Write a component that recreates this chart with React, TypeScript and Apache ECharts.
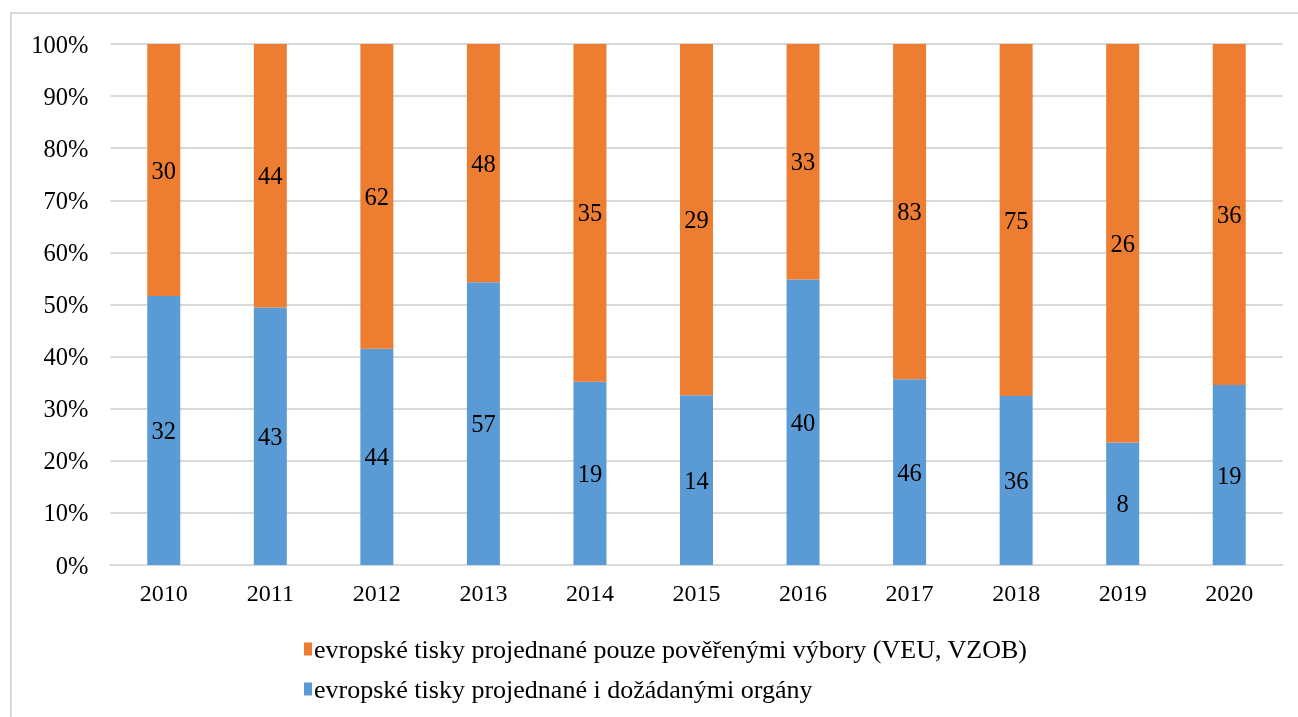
import React, { useEffect, useRef } from "react";
import * as echarts from "echarts";

const years = ["2010", "2011", "2012", "2013", "2014", "2015", "2016", "2017", "2018", "2019", "2020"];
const blueCounts = [32, 43, 44, 57, 19, 14, 40, 46, 36, 8, 19];
const orangeCounts = [30, 44, 62, 48, 35, 29, 33, 83, 75, 26, 36];
const orangeName = "evropské tisky projednané pouze pověřenými výbory (VEU, VZOB)";
const blueName = "evropské tisky projednané i dožádanými orgány";

export default function App() {
  const ref = useRef<HTMLDivElement>(null);
  useEffect(() => {
    if (!ref.current) return;
    const chart = echarts.init(ref.current, null, { renderer: "svg" });
    const totals = years.map((_, i) => blueCounts[i] + orangeCounts[i]);
    const bluePct = blueCounts.map((v, i) => (v / totals[i]) * 100);
    const orangePct = orangeCounts.map((v, i) => (v / totals[i]) * 100);
    const font = "'Liberation Serif', 'Times New Roman', serif";
    chart.setOption({
      animation: false,
      textStyle: { fontFamily: font },
      graphic: [
        {
          type: "rect",
          shape: { x: 11, y: 13, width: 1400, height: 800 },
          style: { fill: "none", stroke: "#d9d9d9", lineWidth: 2 },
          silent: true,
        },
      ],
      grid: { left: 110.5, right: 15.5, top: 44, bottom: 152 },
      legend: {
        orient: "vertical",
        left: 299,
        top: 631,
        itemWidth: 8,
        itemHeight: 13,
        itemGap: 14,
        icon: "rect",
        data: [orangeName, blueName],
        textStyle: { fontFamily: font, fontSize: 26, color: "#000", padding: [0, 0, 0, -3] },
      },
      xAxis: {
        type: "category",
        data: years,
        axisLine: { lineStyle: { color: "#d9d9d9", width: 2 } },
        axisTick: { show: false },
        axisLabel: { fontFamily: font, fontSize: 24, color: "#000", margin: 16 },
      },
      yAxis: {
        type: "value",
        min: 0,
        max: 100,
        interval: 10,
        axisLine: { show: false },
        axisTick: { show: false },
        splitLine: { lineStyle: { color: "#d9d9d9", width: 2 } },
        axisLabel: { fontFamily: font, fontSize: 24.5, color: "#000", margin: 22, formatter: "{value}%" },
      },
      series: [
        {
          name: blueName,
          type: "bar",
          stack: "a",
          barWidth: 33,
          data: bluePct,
          itemStyle: { color: "#5B9BD5" },
          label: {
            show: true,
            position: "inside",
            fontFamily: font,
            fontSize: 24.5,
            color: "#000",
            formatter: (p: any) => String(blueCounts[p.dataIndex]),
          },
        },
        {
          name: orangeName,
          type: "bar",
          stack: "a",
          barWidth: 33,
          data: orangePct,
          itemStyle: { color: "#ED7D31" },
          label: {
            show: true,
            position: "inside",
            fontFamily: font,
            fontSize: 24.5,
            color: "#000",
            formatter: (p: any) => String(orangeCounts[p.dataIndex]),
          },
        },
      ],
    });
    return () => chart.dispose();
  }, []);
  return <div ref={ref} style={{ position: "fixed", left: 0, top: 0, width: 1298, height: 717 }} />;
}
